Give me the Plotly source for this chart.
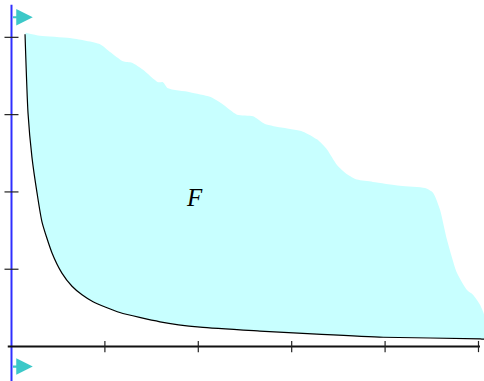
import plotly.graph_objects as go

# Lower boundary (black curve)
lower_x = [0.145, 0.177, 0.219, 0.273, 0.327, 0.434, 0.54, 0.648, 0.755, 0.873,
           1.16, 1.59, 2.02, 2.66, 3.27, 3.98, 5.02, 5.06]
lower_y = [4.04, 3.02, 2.45, 1.99, 1.61, 1.21, 0.95, 0.78, 0.67, 0.58,
           0.44, 0.32, 0.25, 0.20, 0.16, 0.12, 0.10, 0.095]

# Upper boundary of the region F
upper_x = [0.155, 0.305, 0.626, 0.948, 1.055, 1.194, 1.29, 1.408, 1.568, 1.622,
           1.676, 1.911, 2.125, 2.254, 2.414, 2.586, 2.714, 2.907, 3.121, 3.271,
           3.378, 3.485, 3.592, 3.699, 3.87, 4.159, 4.427, 4.513, 4.588, 4.663,
           4.77, 4.877, 4.941, 5.016, 5.06]
upper_y = [4.06, 4.02, 3.99, 3.91, 3.81, 3.69, 3.67, 3.58, 3.42, 3.42,
           3.34, 3.29, 3.23, 3.14, 3.00, 2.98, 2.88, 2.83, 2.78, 2.68,
           2.55, 2.35, 2.23, 2.16, 2.13, 2.08, 2.05, 1.99, 1.77, 1.38,
           0.95, 0.73, 0.67, 0.54, 0.41]

x_ticks = [1, 2, 3, 4, 5]
y_ticks = [1, 2, 3, 4]

fig = go.Figure()

# filled region
poly_x = upper_x + lower_x[::-1]
poly_y = upper_y + lower_y[::-1]
fig.add_trace(go.Scatter(x=poly_x, y=poly_y, fill="toself", mode="lines",
                         line=dict(width=0, shape="spline", smoothing=0.6,
                                   color="#c8ffff"),
                         fillcolor="#c8ffff", hoverinfo="skip"))

# y-axis (blue)
fig.add_trace(go.Scatter(x=[0, 0], y=[-0.5, 4.42], mode="lines",
                         line=dict(color="#2f2fff", width=2), hoverinfo="skip"))
# x-axis (black)
fig.add_trace(go.Scatter(x=[-0.04, 5.016], y=[0, 0], mode="lines",
                         line=dict(color="#111111", width=2), hoverinfo="skip"))

# lower curve
fig.add_trace(go.Scatter(x=lower_x, y=lower_y, mode="lines",
                         line=dict(color="black", width=1.2, shape="spline",
                                   smoothing=0.6),
                         hoverinfo="skip"))

# ticks
fig.add_trace(go.Scatter(x=[0] * len(y_ticks), y=y_ticks, mode="markers",
                         marker=dict(symbol="line-ew", size=10,
                                     line=dict(color="#222222", width=1.2)),
                         hoverinfo="skip"))
fig.add_trace(go.Scatter(x=x_ticks, y=[0] * len(x_ticks), mode="markers",
                         marker=dict(symbol="line-ns", size=8,
                                     line=dict(color="#222222", width=1.2)),
                         hoverinfo="skip"))

# cyan arrows
for yv in [4.26, -0.26]:
    fig.add_annotation(x=0.228, y=yv, ax=0.0, ay=yv, xref="x", yref="y",
                       axref="x", ayref="y", showarrow=True, text="",
                       arrowhead=2, arrowsize=1.5, arrowwidth=2.2,
                       arrowcolor="#3cc8c8")

# label
fig.add_annotation(x=1.96, y=1.93, text="<i>F</i>", showarrow=False,
                   font=dict(family="Liberation Serif", size=25, color="black"))

fig.update_layout(
    width=484, height=381,
    margin=dict(l=0, r=0, t=0, b=0),
    paper_bgcolor="white", plot_bgcolor="white",
    showlegend=False,
    xaxis=dict(range=[-0.123, 5.059], visible=False, fixedrange=True),
    yaxis=dict(range=[-0.446, 4.483], visible=False, fixedrange=True),
)

fig.write_html("out.html", config={"displayModeBar": False},
               post_script="document.body.style.margin='0';")
